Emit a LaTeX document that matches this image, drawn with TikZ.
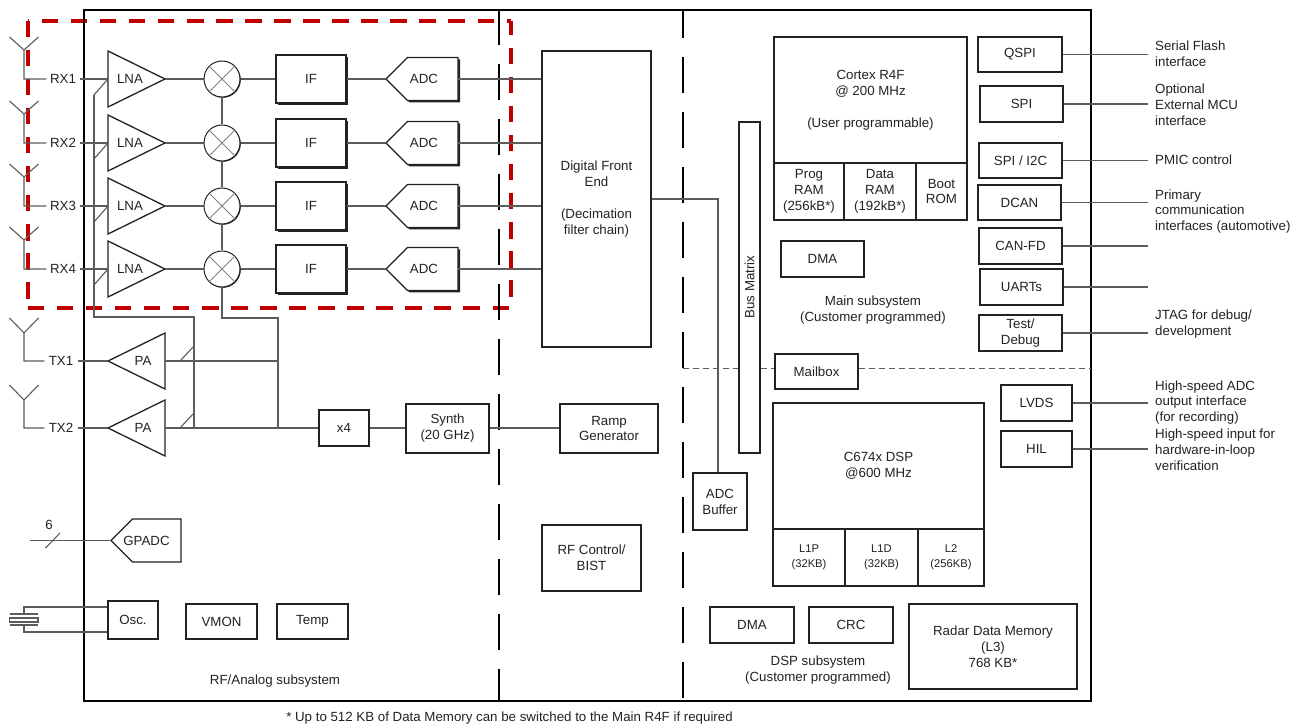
\documentclass[tikz,border=0pt]{standalone}
\usepackage{fontspec}
\usepackage{xcolor}
\usepackage{tikz}
\usetikzlibrary{shapes.geometric,shapes.symbols,shadows}
\setmainfont{Liberation Sans}
\definecolor{ink}{HTML}{222222}
\definecolor{wirec}{HTML}{5C5C5C}
\definecolor{redbox}{HTML}{C00000}
\tikzset{
  txt/.style={font=\fontsize{13.3}{15.9}\selectfont,text=ink,align=center,inner sep=0pt},
  blk/.style={txt,draw=ink,line width=1.3pt,fill=white},
  subblk/.style={blk,font=\fontsize{11.2}{15}\selectfont},
  shadowblk/.style={blk,general shadow={fill=ink,shadow xshift=2pt,shadow yshift=-2pt}},
  amp/.style={blk,isosceles triangle,isosceles triangle stretches,minimum width=56,minimum height=57,outer sep=0pt},
  conv/.style={blk,signal,signal to=west,signal from=nowhere,signal pointer angle=90,minimum height=43,anchor=east,outer sep=0pt},
  mixer/.style={blk,circle,minimum size=36,line width=1pt,general shadow={fill=ink,shadow xshift=.8pt,shadow yshift=-.8pt}},
  wire/.style={draw=wirec,line width=1.1pt},
  partline/.style={black,line width=1.7pt,dash pattern=on 36pt off 19pt},
  redline/.style={redbox,line width=4pt,dash pattern=on 16.5pt off 12.55pt},
  note/.style={txt,align=left,anchor=west},
}
\begin{document}
\begin{tikzpicture}[x=1pt,y=-1pt]
\useasboundingbox (0,0) rectangle (1298,727);
% corners of the receive chain outline
\coordinate (rednw) at (27.7,20.7);
\coordinate (redne) at (510.5,20.7);
\coordinate (redsw) at (27.7,308);
\coordinate (redse) at (510.5,308);
\draw[redline] (rednw)--(redsw);
\draw[redline] (redsw)--(redse);
\draw[redline,dash phase=2pt] (redne)--(redse);
\draw[redline,dash phase=15pt] (rednw)--(redne);
\node[draw=black,line width=2pt,minimum width=1007,minimum height=691] (chip) at (587.5,355.5) {};
\draw[partline] (499,0 |- chip.north)--(499,0 |- chip.south);
\draw[partline,dash phase=7pt] (683,0 |- chip.north)--(683,0 |- chip.south);
% receive rows
\foreach \i/\yy in {1/79,2/143,3/206,4/269} {
  \node[txt,minimum width=33] (rx\i) at (63,\yy) {RX\i};
  \node[amp,anchor=apex] (lna\i) at (165,\yy) {};
  \node[txt] (lnatext\i) at (130,\yy) {LNA};
  \node[mixer] (mix\i) at (222,\yy) {};
  \node[shadowblk,minimum width=70,minimum height=48] (if\i) at (311,\yy) {IF};
  \node[conv,general shadow={fill=ink,shadow xshift=2pt,shadow yshift=-2pt},minimum width=72] (adc\i) at (458,\yy) {};
  \node[txt] (adctext\i) at (424,\yy) {ADC};
  \coordinate (ant\i) at (24,\yy-29);
  \coordinate (lotap\i) at (94,\yy+16);
  \draw[wire] (rx\i.west) -| (ant\i) -- +(-14.5,-13);
  \draw[wire] (ant\i) -- +(14.5,-13);
  \draw[wire] (rx\i.east)--(lna\i.lower side);
  \draw[wire] (lotap\i)--(lna\i.lower side);
  \draw[wire] (lna\i.apex)--(mix\i.west);
  \draw[wire,line width=.8pt,draw=gray] (mix\i.45)--(mix\i.225);
  \draw[wire,line width=.8pt,draw=gray] (mix\i.135)--(mix\i.315);
  \draw[wire] (mix\i.east)--(if\i.west);
  \draw[wire] (if\i.east)--(adc\i.west);
}
\foreach \i/\j in {1/2,2/3,3/4} \draw[wire] (mix\i.south)--(mix\j.north);
% transmit rows
\foreach \i/\yy in {1/361,2/428} {
  \node[txt,minimum width=33] (tx\i) at (61,\yy) {TX\i};
  \node[amp,shape border rotate=180,anchor=apex] (pa\i) at (108,\yy) {};
  \node[txt] (patext\i) at (143,\yy) {PA};
  \coordinate (ant\i) at (24,\yy-28);
  \coordinate (patap\i) at (180,\yy);
  \coordinate (patip\i) at (194,\yy-15);
  \draw[wire] (tx\i.west) -| (ant\i) -- +(-14.5,-15);
  \draw[wire] (ant\i) -- +(14.5,-15);
  \draw[wire] (tx\i.east)--(pa\i.apex);
  \draw[wire] (patap\i)--(patip\i);
}
\node[blk,minimum width=50,minimum height=36] (xfour) at (344,428) {x4};
\node[blk,minimum width=83,minimum height=49] (synth) at (447.5,428.5) {Synth\\(20 GHz)};
\node[blk,minimum width=98,minimum height=49] (ramp) at (609,428.5) {Ramp\\Generator};
\node[blk,minimum width=99,minimum height=66] (rfctrl) at (591.5,558) {RF Control/\\BIST};
\node[blk,minimum width=109,minimum height=296] (dfe) at (596.5,199) {Digital Front\\End\\[15.9pt](Decimation\\filter chain)};
\node[blk,minimum width=54,minimum height=57] (adcbuf) at (720,501.5) {ADC\\Buffer};
\node[blk,minimum width=21,minimum height=331] (busmatrix) at (749.5,287.5) {};
\node[txt,rotate=90] (bustext) at (749.5,287) {Bus Matrix};
% local oscillator buses
\coordinate (lotop) at (94,95);
\coordinate (lomid) at (194,317);
\coordinate (lolow) at (194,428);
\coordinate (feedmid) at (278,318);
\coordinate (feedpa) at (278,361);
\coordinate (feedlow) at (278,428);
\draw[wire] (lotop) |- (lomid) -- (lolow);
\draw[wire] (mix4.south) |- (feedmid) -- (feedlow);
\draw[wire] (pa1.lower side)--(feedpa);
\draw[wire] (pa2.lower side)--(xfour.west);
\draw[wire] (xfour.east)--(xfour.east -| synth.west);
\draw[wire] (xfour.east -| synth.east)--(xfour.east -| ramp.west);
\foreach \i in {1,2,3,4} \draw[wire] (adc\i.east)--(dfe.west |- adc\i.east);
\draw[wire] (dfe.east) -| ([xshift=-2]adcbuf.north);
% aux converter and clock
\node[conv,minimum width=70] (gpadc) at (181,540.5) {};
\node[txt] (gpadctext) at (146.5,540.5) {GPADC};
\coordinate (gpin) at (30,540.5);
\coordinate (gpslasha) at (45.5,548);
\coordinate (gpslashb) at (60,533);
\draw[wire] (gpin)--(gpadc.west);
\draw[wire] (gpslasha)--(gpslashb);
\node[txt] (gpcount) at (49,525) {6};
\node[blk,minimum width=50,minimum height=38] (osc) at (133,620) {Osc.};
\node[blk,minimum width=71,minimum height=35] (vmon) at (221.5,621.5) {VMON};
\node[blk,minimum width=71,minimum height=35] (temp) at (312.5,621.5) {Temp};
\coordinate (xtala) at (24,614);
\coordinate (xtalb) at (24,625);
\draw[wire] (xtala) |- ([yshift=13]osc.west);
\draw[wire] (xtalb) |- ([yshift=-12]osc.west);
\draw[wire] (9.5,614)--(38,614);
\draw[wire] (9.5,625)--(38,625);
\draw[wire] (9.5,618) rectangle (38,622);
\node[txt] (rflabel) at (275,681) {RF/Analog subsystem};
% main subsystem
\node[blk,minimum width=193,minimum height=126] (cortex) at (870.5,100) {Cortex R4F\\@ 200 MHz\\[15.9pt](User programmable)};
\node[blk,minimum width=70,minimum height=57] (program) at (809,191.5) {Prog\\RAM\\(256kB*)};
\node[blk,minimum width=72,minimum height=57] (dataram) at (880,191.5) {Data\\RAM\\(192kB*)};
\node[blk,minimum width=51,minimum height=57] (bootrom) at (941.5,191.5) {Boot\\ROM};
\node[blk,minimum width=83,minimum height=36] (dmamain) at (822.5,259) {DMA};
\node[txt] (mainlabel) at (873,310.5) {Main subsystem\\(Customer programmed)};
\node[blk,minimum width=83,minimum height=35] (mailbox) at (816.5,371.5) {Mailbox};
\coordinate (splitw) at (683,368);
\coordinate (splite) at (1091,368);
\draw[wirec,line width=1pt,dash pattern=on 6pt off 4pt] (splitw)--(splitw -| busmatrix.west);
\draw[wirec,line width=1pt,dash pattern=on 6pt off 4pt] (splitw -| busmatrix.east)--(splitw -| mailbox.west);
\draw[wirec,line width=1pt,dash pattern=on 6pt off 4pt] (splitw -| mailbox.east)--(splite);
% DSP subsystem
\node[blk,minimum width=211,minimum height=126] (dsp) at (878.5,466) {C674x DSP\\@600 MHz};
\node[subblk,minimum width=72,minimum height=57] (lonep) at (809,557.5) {L1P\\(32KB)};
\node[subblk,minimum width=72,minimum height=57] (loned) at (881.5,557.5) {L1D\\(32KB)};
\node[subblk,minimum width=66,minimum height=57] (ltwo) at (951,557.5) {L2\\(256KB)};
\node[blk,minimum width=84,minimum height=36] (dmadsp) at (752,625) {DMA};
\node[blk,minimum width=84,minimum height=36] (crc) at (851,625) {CRC};
\node[blk,minimum width=168,minimum height=85] (radarmem) at (993,646.5) {Radar Data Memory\\(L3)\\768 KB*};
\node[txt] (dsplabel) at (818,670) {DSP subsystem\\(Customer programmed)};
% peripherals
\node[blk,minimum width=84,minimum height=35] (qspi) at (1020,54.5) {QSPI};
\node[blk,minimum width=83,minimum height=36] (spi) at (1021.5,104) {SPI};
\node[blk,minimum width=83,minimum height=35] (spii) at (1020.5,160.5) {SPI / I2C};
\node[blk,minimum width=83,minimum height=35] (dcan) at (1019.5,202.5) {DCAN};
\node[blk,minimum width=83,minimum height=36] (canfd) at (1020.5,246) {CAN-FD};
\node[blk,minimum width=83,minimum height=36] (uarts) at (1021.5,287) {UARTs};
\node[blk,minimum width=83,minimum height=36] (testdbg) at (1020.5,333) {Test/\\Debug};
\node[blk,minimum width=71,minimum height=36] (lvds) at (1036.5,403) {LVDS};
\node[blk,minimum width=71,minimum height=36] (hil) at (1036.5,449) {HIL};
\foreach \n in {qspi,spi,spii,dcan,canfd,uarts,testdbg,lvds,hil} {
  \coordinate (\n out) at (1147.5,0 |- \n.east);
  \draw[wire] (\n.east)--(\n out);
}
\node[note] (flashnote) at (1155,53.5) {Serial Flash\\interface};
\node[note] (mcunote) at (1155,104.5) {Optional\\External MCU\\interface};
\node[note] (pmicnote) at (1155,159.5) {PMIC control};
\node[note] (commnote) at (1155,211.5) {Primary\\communication\\interfaces (automotive)};
\node[note] (jtagnote) at (1155,324.5) {JTAG for debug/\\development};
\node[note] (adcnote) at (1155,402.5) {High-speed ADC\\output interface\\(for recording)};
\node[note] (hilnote) at (1155,450) {High-speed input for\\hardware-in-loop\\verification};
\node[txt] (footnote) at (509.5,718) {* Up to 512 KB of Data Memory can be switched to the Main R4F if required};
\end{tikzpicture}
\end{document}
